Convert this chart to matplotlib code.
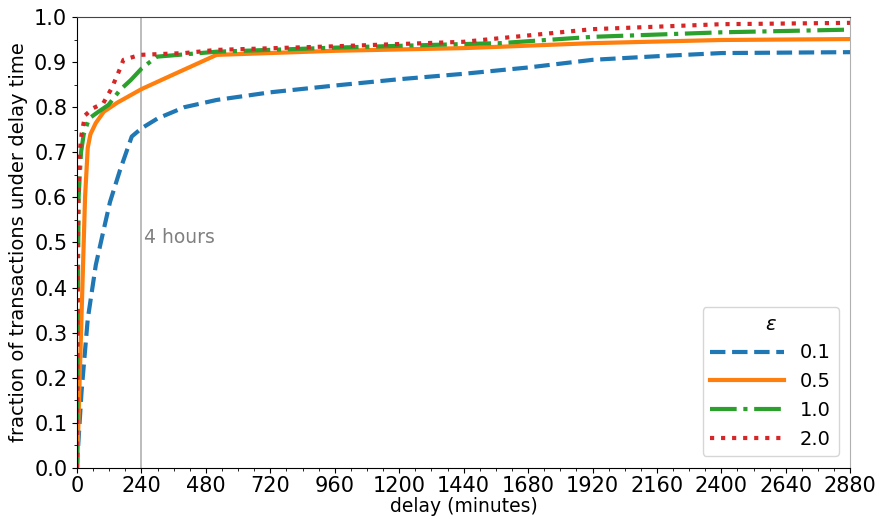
import matplotlib.pyplot as plt
from matplotlib.ticker import MultipleLocator

plt.rcParams['font.family'] = ['DejaVu Sans']

# curvas (delay em minutos, fracao acumulada)
x_01 = [0, 5, 17, 40, 70, 100, 123, 160, 204, 240, 300, 400, 520, 720, 960, 1200, 1440, 1576, 1680, 1920, 2160, 2400, 2640, 2880]
y_01 = [0, 0.055, 0.17, 0.33, 0.45, 0.53, 0.59, 0.66, 0.735, 0.753, 0.775, 0.80, 0.816, 0.833, 0.848, 0.862, 0.874, 0.882, 0.888, 0.905, 0.913, 0.920, 0.921, 0.922]

x_05 = [0, 3, 10, 20, 30, 40, 50, 70, 100, 150, 240, 350, 520, 960, 1440, 1576, 1920, 2400, 2880]
y_05 = [0, 0.05, 0.2, 0.4, 0.6, 0.71, 0.74, 0.765, 0.79, 0.81, 0.84, 0.87, 0.916, 0.925, 0.931, 0.934, 0.942, 0.949, 0.951]

x_10 = [0, 2, 4, 6, 15, 25, 45, 80, 117, 160, 200, 241, 297, 520, 960, 1440, 1576, 1920, 2400, 2880]
y_10 = [0, 0.2, 0.45, 0.6, 0.7, 0.74, 0.775, 0.79, 0.805, 0.838, 0.86, 0.886, 0.912, 0.923, 0.932, 0.94, 0.942, 0.956, 0.966, 0.972]

x_20 = [0, 1, 3, 5, 10, 17, 30, 61, 98, 129, 160, 173, 235, 400, 520, 960, 1440, 1576, 1920, 2400, 2880]
y_20 = [0, 0.2, 0.45, 0.6, 0.7, 0.74, 0.782, 0.798, 0.809, 0.842, 0.885, 0.905, 0.916, 0.92, 0.927, 0.935, 0.945, 0.953, 0.973, 0.984, 0.987]

eps_labels = ['0.1', '0.5', '1.0', '2.0']

fig = plt.figure(figsize=(8.78, 5.21), dpi=100)
ax = fig.add_axes([0.0877, 0.1017, 0.8807, 0.8657])

ax.axvline(240, color='#b0b0b0', lw=1.2, zorder=1)
ax.text(250, 0.51, '4 hours', color='gray', fontsize=13.5, va='center')

ax.plot(x_01, y_01, color='#1f77b4', lw=3, ls=(0, (3.7, 1.6)), label=eps_labels[0])
ax.plot(x_05, y_05, color='#ff7f0e', lw=3, ls='-', label=eps_labels[1])
ax.plot(x_10, y_10, color='#2ca02c', lw=3, ls=(0, (6.4, 1.6, 1, 1.6)), label=eps_labels[2])
ax.plot(x_20, y_20, color='#d62728', lw=3, ls=(0, (1, 1.65)), label=eps_labels[3])

ax.set_xlim(0, 2880)
ax.set_ylim(0, 1.0)
ax.xaxis.set_major_locator(MultipleLocator(240))
ax.xaxis.set_minor_locator(MultipleLocator(60))
ax.yaxis.set_major_locator(MultipleLocator(0.1))
ax.yaxis.set_minor_locator(MultipleLocator(0.05))
ax.tick_params(axis='both', which='major', labelsize=15)
ax.tick_params(axis='x', which='major', pad=2)
ax.spines['right'].set_color('#b0b0b0')
ax.spines['top'].set_color('#444444')

ax.set_xlabel('delay (minutes)', fontsize=13.5, labelpad=1)
ax.set_ylabel('fraction of transactions under delay time', fontsize=14)

leg = ax.legend(title=r'$\varepsilon$', loc='lower right', fontsize=14,
                title_fontsize=14, handlelength=3.8, borderaxespad=0.6)

fig.savefig('out.png', dpi=100)
